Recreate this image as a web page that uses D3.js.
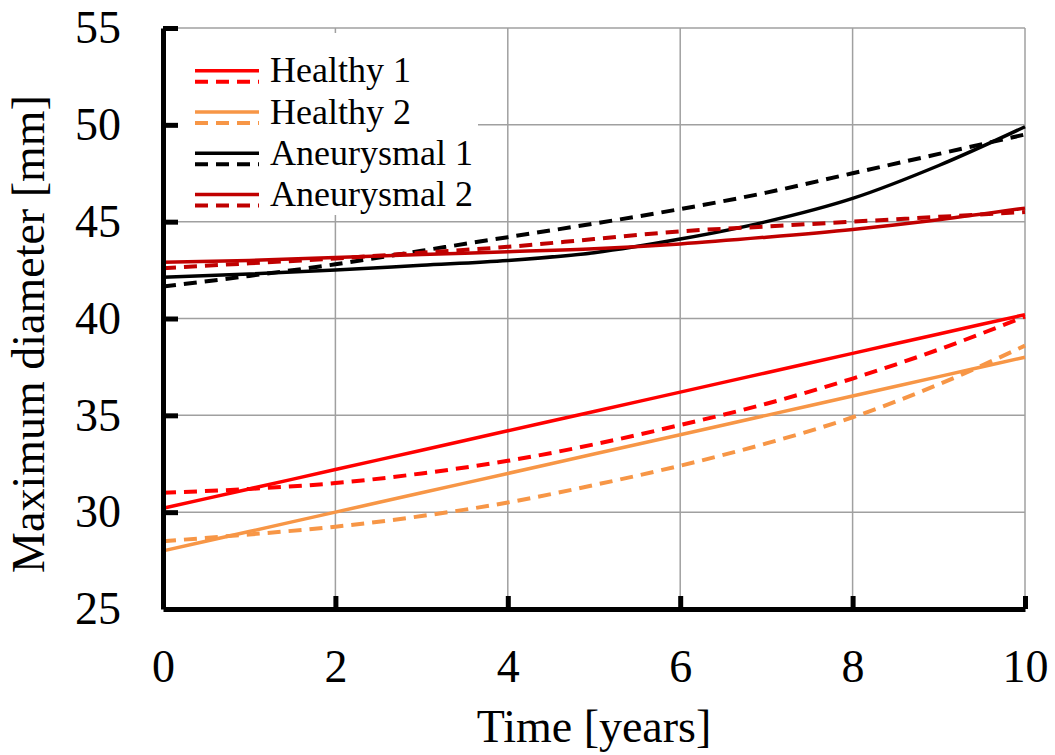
<!DOCTYPE html>
<html>
<head>
<meta charset="utf-8">
<script src="https://cdn.jsdelivr.net/npm/d3@7"></script>
<style>
  body { margin: 0; background: #fff; }
  svg { display: block; font-family: "Liberation Serif", "Times New Roman", serif; }
</style>
</head>
<body>
<svg id="chart" width="1055" height="755"></svg>
<script>
// data
var years = [0, 1, 2, 3, 4, 5, 6, 7, 8, 9, 10];
var healthy1Solid  = [30.2, 31.2, 32.2, 33.2, 34.2, 35.2, 36.2, 37.2, 38.2, 39.2, 40.2];
var healthy1Dashed = [31.0, 31.2, 31.5, 32.0, 32.65, 33.5, 34.5, 35.6, 36.9, 38.4, 40.1];
var healthy2Solid  = [28.0, 29.0, 30.0, 31.0, 32.0, 33.0, 34.0, 35.0, 36.0, 37.0, 38.0];
var healthy2Dashed = [28.5, 28.85, 29.25, 29.8, 30.5, 31.4, 32.4, 33.55, 34.9, 36.6, 38.6];
var aneur1Solid    = [42.13, 42.3, 42.5, 42.75, 43.0, 43.4, 44.1, 45.0, 46.2, 47.9, 49.9];
var aneur1Dashed   = [41.65, 42.2, 42.8, 43.5, 44.2, 44.9, 45.65, 46.5, 47.5, 48.5, 49.5];
var aneur2Solid    = [42.9, 43.0, 43.15, 43.3, 43.45, 43.6, 43.85, 44.2, 44.6, 45.1, 45.7];
var aneur2Dashed   = [42.6, 42.85, 43.1, 43.4, 43.7, 44.1, 44.5, 44.75, 45.0, 45.25, 45.5];

var seriesNames  = ["Healthy 1", "Healthy 2", "Aneurysmal 1", "Aneurysmal 2"];
var seriesColors = ["#ff0000", "#f79646", "#000000", "#c00000"];
var solidValues  = [healthy1Solid, healthy2Solid, aneur1Solid, aneur2Solid];
var dashedValues = [healthy1Dashed, healthy2Dashed, aneur1Dashed, aneur2Dashed];

var xTicks = [0, 2, 4, 6, 8, 10];
var yTicks = [25, 30, 35, 40, 45, 50, 55];

// layout (plot box)
var plotLeft = 163, plotRight = 1025, plotTop = 28, plotBottom = 609;

var svg = d3.select("#chart");

var x = d3.scaleLinear().domain([0, 10]).range([plotLeft, plotRight]);
var y = d3.scaleLinear().domain([25, 55]).range([plotBottom, plotTop]);

// grid
var grid = svg.append("g").attr("stroke", "#a0a0a0").attr("stroke-width", 1.5);
grid.selectAll(".gx").data(xTicks.slice(1)).enter().append("line")
    .attr("x1", d => x(d)).attr("x2", d => x(d))
    .attr("y1", plotTop).attr("y2", plotBottom);
grid.selectAll(".gy").data(yTicks.slice(1)).enter().append("line")
    .attr("x1", plotLeft).attr("x2", plotRight)
    .attr("y1", d => y(d)).attr("y2", d => y(d));

// legend box covers the grid
svg.append("rect")
    .attr("x", 170).attr("y", 33)
    .attr("width", 308).attr("height", 182)
    .attr("fill", "#fff");

// lines
var line = d3.line()
    .x((d, i) => x(years[i]))
    .y(d => y(d))
    .curve(d3.curveMonotoneX);

var lines = svg.append("g").attr("fill", "none");
for (let i = 0; i < seriesNames.length; i++) {
    lines.append("path")
        .attr("d", line(solidValues[i]))
        .attr("stroke", seriesColors[i])
        .attr("stroke-width", 3.5);
    lines.append("path")
        .attr("d", line(dashedValues[i]))
        .attr("stroke", seriesColors[i])
        .attr("stroke-width", 4)
        .attr("stroke-dasharray", "13,8");
}

// axes
var yAxis = d3.axisLeft(y)
    .tickValues(yTicks)
    .tickSizeInner(-15)
    .tickSizeOuter(0)
    .tickPadding(42);
var yg = svg.append("g")
    .attr("transform", "translate(" + plotLeft + ",0)")
    .call(yAxis);

var xAxis = d3.axisBottom(x)
    .tickValues(xTicks)
    .tickFormat(d3.format("d"))
    .tickSizeInner(-13)
    .tickSizeOuter(0)
    .tickPadding(40);
var xg = svg.append("g")
    .attr("transform", "translate(0," + plotBottom + ")")
    .call(xAxis);

[yg, xg].forEach(g => {
    g.select(".domain").attr("stroke", "#000").attr("stroke-width", 5);
    g.selectAll(".tick line").attr("stroke", "#000").attr("stroke-width", 5);
    g.selectAll(".tick text")
        .attr("fill", "#000")
        .style("font-size", "46px")
        .style("font-family", "'Liberation Serif', 'Times New Roman', serif");
});
yg.select(".tick line").remove();
xg.select(".tick line").remove();

// axis titles
svg.append("text")
    .attr("x", (plotLeft + plotRight) / 2)
    .attr("y", 742)
    .attr("text-anchor", "middle")
    .style("font-size", "46px")
    .text("Time [years]");

svg.append("text")
    .attr("transform", "translate(44,334) rotate(-90)")
    .attr("text-anchor", "middle")
    .style("font-size", "46px")
    .text("Maximum diameter [mm]");

// legend
var legend = svg.append("g");
seriesNames.forEach((name, i) => {
    var ly = 70.7 + i * 41.3;
    legend.append("line")
        .attr("x1", 195).attr("x2", 259)
        .attr("y1", ly).attr("y2", ly)
        .attr("stroke", seriesColors[i]).attr("stroke-width", 3.5);
    legend.append("line")
        .attr("x1", 195).attr("x2", 259)
        .attr("y1", ly + 11).attr("y2", ly + 11)
        .attr("stroke", seriesColors[i]).attr("stroke-width", 4)
        .attr("stroke-dasharray", "13,8");
    legend.append("text")
        .attr("x", 270)
        .attr("y", ly + 11.5)
        .style("font-size", "36px")
        .text(name);
});
</script>
</body>
</html>
